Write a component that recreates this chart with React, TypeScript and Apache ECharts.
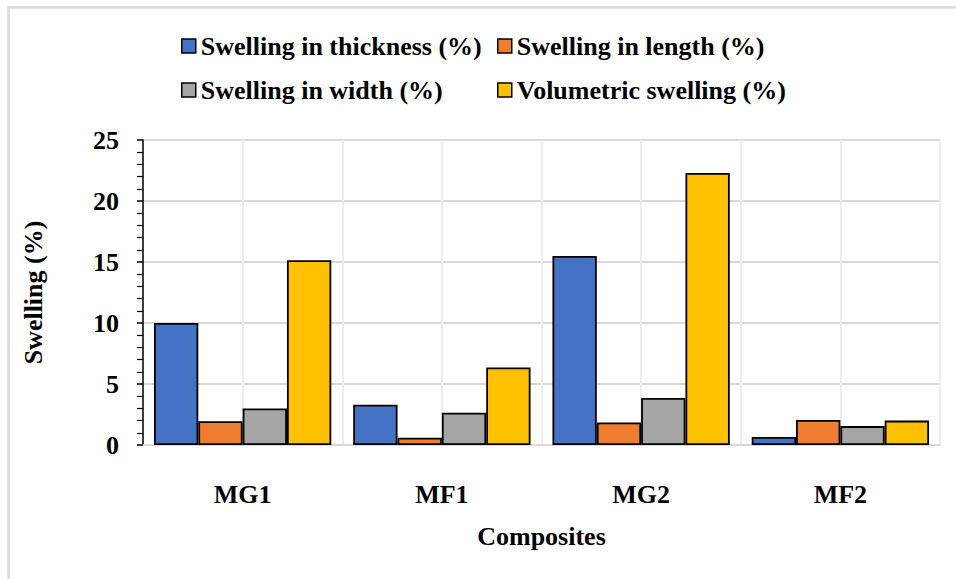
import React, { useEffect, useRef } from "react";
import * as echarts from "echarts";

const categories = ["MG1", "MF1", "MG2", "MF2"];
const seriesNames = [
  "Swelling in thickness (%)",
  "Swelling in length (%)",
  "Swelling in width (%)",
  "Volumetric swelling (%)",
];
const thickness = [10.0, 3.3, 15.5, 0.65];
const lengthVals = [1.95, 0.6, 1.85, 2.05];
const widthVals = [3.0, 2.65, 3.85, 1.55];
const volumetric = [15.15, 6.35, 22.3, 2.0];
const colors = ["#4472C4", "#ED7D31", "#A5A5A5", "#FFC000"];
const yTicks = [0, 5, 10, 15, 20, 25];

const FONT = "Liberation Serif";

export default function App() {
  const ref = useRef<HTMLDivElement>(null);
  useEffect(() => {
    if (!ref.current) return;
    const chart = echarts.init(ref.current, undefined, { renderer: "svg" });
    const values = [thickness, lengthVals, widthVals, volumetric];
    const legendPos = [
      { left: 181, top: 33 },
      { left: 497, top: 33 },
      { left: 181, top: 77 },
      { left: 497, top: 77 },
    ];
    chart.setOption({
      animation: false,
      backgroundColor: "#ffffff",
      textStyle: { fontFamily: FONT },
      graphic: [
        {
          type: "rect",
          shape: { x: 8.5, y: 7.5, width: 1200, height: 1200 },
          style: { fill: "none", stroke: "#d9d9d9", lineWidth: 2.5 },
          silent: true,
          z: -10,
        },
      ],
      legend: seriesNames.map((n, i) => ({
        data: [n],
        left: legendPos[i].left,
        top: legendPos[i].top,
        icon: "rect",
        itemWidth: 14,
        itemHeight: 14,
        itemGap: 0,
        padding: 0,
        itemStyle: { borderColor: "#000", borderWidth: 1.5 },
        textStyle: { fontFamily: FONT, fontSize: 26, fontWeight: "bold", color: "#000" },
        selectedMode: false,
      })),
      grid: { left: 143, right: 16, top: 140, bottom: 134 },
      xAxis: [
        {
          type: "category",
          data: categories,
          name: "Composites",
          nameLocation: "middle",
          nameGap: 78,
          nameTextStyle: { fontFamily: FONT, fontSize: 26, fontWeight: "bold", color: "#000" },
          axisLine: { show: true, lineStyle: { color: "#d9d9d9", width: 2 } },
          axisTick: { show: false },
          axisLabel: { margin: 36, fontFamily: FONT, fontSize: 26, fontWeight: "bold", color: "#000" },
          splitLine: { show: false },
        },
        {
          type: "value",
          min: 0,
          max: 8,
          interval: 1,
          position: "top",
          axisLine: { show: false },
          axisTick: { show: false },
          axisLabel: { show: false },
          splitLine: { show: true, lineStyle: { color: "#ededed", width: 2 } },
        },
      ],
      yAxis: {
        type: "value",
        min: yTicks[0],
        max: yTicks[yTicks.length - 1],
        interval: 5,
        name: "Swelling (%)",
        nameLocation: "middle",
        nameGap: 97,
        nameTextStyle: { fontFamily: FONT, fontSize: 26, fontWeight: "bold", color: "#000" },
        axisLine: { show: true, lineStyle: { color: "#000", width: 1.5 } },
        axisTick: { show: true, length: 6, lineStyle: { color: "#000", width: 1.5 } },
        minorTick: { show: true, splitNumber: 5, length: 6, lineStyle: { color: "#000", width: 1.2 } },
        axisLabel: { margin: 24, fontFamily: FONT, fontSize: 26, fontWeight: "bold", color: "#000" },
        splitLine: { show: true, lineStyle: { color: "#d9d9d9", width: 2 } },
      },
      series: seriesNames.map((n, i) => ({
        name: n,
        type: "bar",
        xAxisIndex: 0,
        data: values[i],
        barGap: "0%",
        barCategoryGap: "11%",
        itemStyle: { color: colors[i], borderColor: "#000", borderWidth: 1.8 },
      })),
    });
    return () => chart.dispose();
  }, []);
  return (
    <div
      ref={ref}
      style={{ position: "fixed", left: 0, top: 0, width: 956, height: 579 }}
    />
  );
}
